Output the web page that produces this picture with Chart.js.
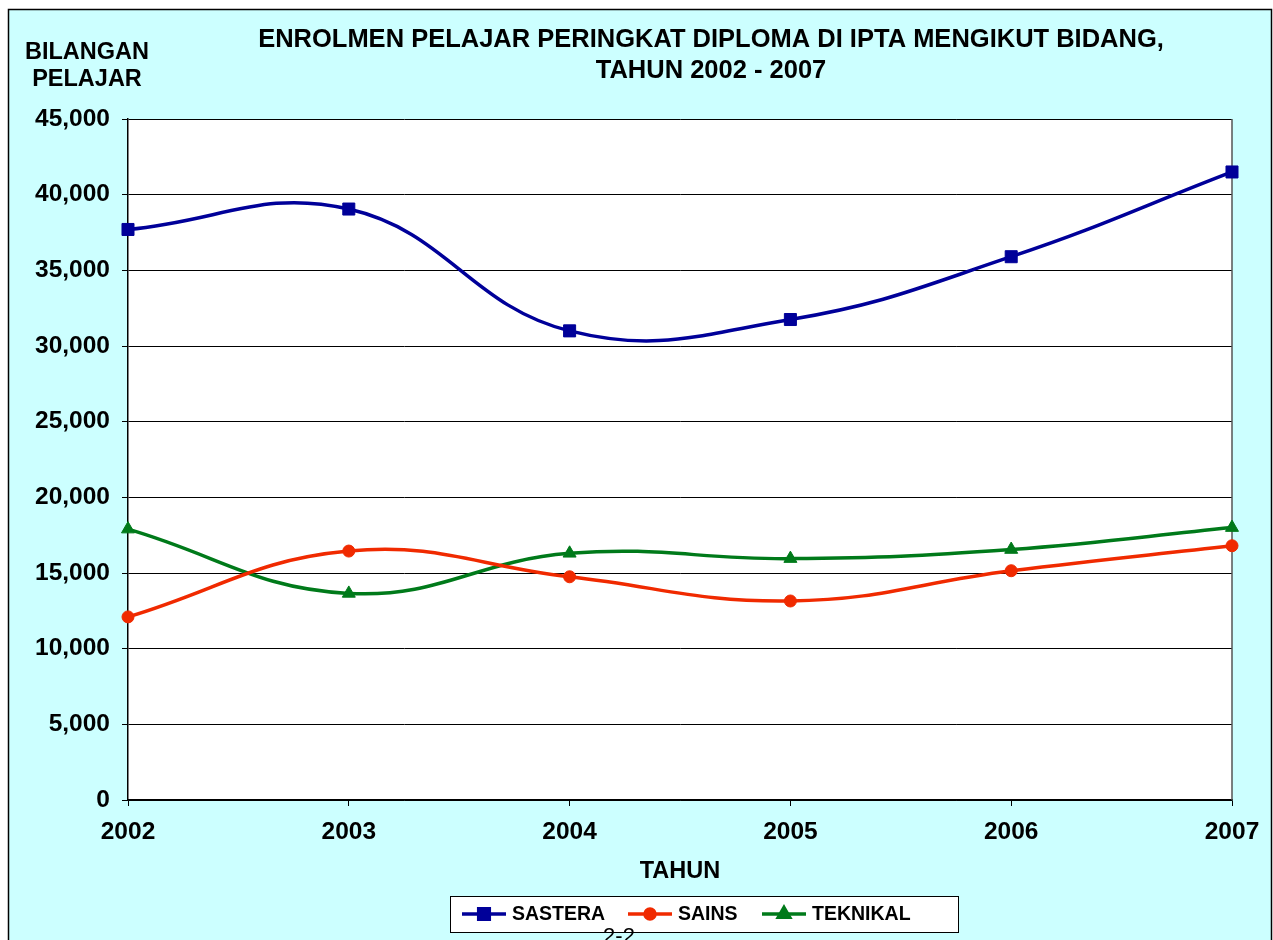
<!DOCTYPE html>
<html>
<head>
<meta charset="utf-8">
<script src="https://cdn.jsdelivr.net/npm/chart.js@4.4.1/dist/chart.umd.min.js"></script>
<style>
  html, body { margin: 0; padding: 0; background: #fff; }
  canvas { display: block; }
</style>
</head>
<body>
<canvas id="chart" width="1273" height="940"></canvas>
<script>
const years = ['2002', '2003', '2004', '2005', '2006', '2007'];
const sastera = [37700, 39050, 31000, 31750, 35900, 41500];
const sains = [12100, 16450, 14750, 13150, 15150, 16800];
const teknikal = [17900, 13650, 16300, 15950, 16550, 18000];
const yTicks = [0, 5000, 10000, 15000, 20000, 25000, 30000, 35000, 40000, 45000];

const FONT = '"Liberation Sans", Arial, sans-serif';

// frame, background, titles, legend
const decorations = {
  id: 'decorations',
  beforeDraw(chart) {
    const ctx = chart.ctx;
    const a = chart.chartArea;
    ctx.save();
    ctx.fillStyle = '#fff';
    ctx.fillRect(0, 0, chart.width, chart.height);
    ctx.fillStyle = '#ccffff';
    ctx.fillRect(8, 9, chart.width - 9, chart.height - 9);
    ctx.strokeStyle = '#000';
    ctx.lineWidth = 1.5;
    ctx.strokeRect(8.5, 9.5, chart.width - 10, chart.height + 10);
    ctx.fillStyle = '#fff';
    ctx.fillRect(a.left, a.top, a.right - a.left, a.bottom - a.top);
    ctx.restore();
  },
  beforeDatasetsDraw(chart) {
    const ctx = chart.ctx;
    const a = chart.chartArea;
    ctx.save();
    ctx.strokeStyle = '#555';
    ctx.lineWidth = 1.5;
    ctx.beginPath();
    ctx.moveTo(a.right, a.top);
    ctx.lineTo(a.right, a.bottom);
    ctx.stroke();
    ctx.restore();
  },
  afterDraw(chart) {
    const ctx = chart.ctx;
    ctx.save();
    ctx.fillStyle = '#000';
    ctx.textAlign = 'center';
    ctx.textBaseline = 'middle';
    ctx.font = 'bold 25.5px ' + FONT;
    ctx.fillText('ENROLMEN PELAJAR PERINGKAT DIPLOMA DI IPTA MENGIKUT BIDANG,', 711, 40);
    ctx.fillText('TAHUN 2002 - 2007', 711, 71);
    ctx.font = 'bold 23.5px ' + FONT;
    ctx.fillText('BILANGAN', 87, 53);
    ctx.fillText('PELAJAR', 87, 80);
    ctx.fillText('TAHUN', 680, 872);

    // legend box
    ctx.fillStyle = '#fff';
    ctx.fillRect(450, 896, 508, 36);
    ctx.strokeStyle = '#000';
    ctx.lineWidth = 1;
    ctx.strokeRect(450.5, 896.5, 508, 36);
    const starts = [462, 628, 762];
    ctx.font = 'bold 19.5px ' + FONT;
    ctx.textAlign = 'left';
    chart.data.datasets.forEach((ds, i) => {
      const x0 = starts[i];
      const y = 914;
      ctx.strokeStyle = ds.borderColor;
      ctx.lineWidth = ds.borderWidth;
      ctx.beginPath();
      ctx.moveTo(x0, y);
      ctx.lineTo(x0 + 44, y);
      ctx.stroke();
      ctx.fillStyle = ds.pointBackgroundColor;
      ctx.strokeStyle = ds.pointBorderColor;
      Chart.helpers.drawPoint(ctx, {
        pointStyle: ds.pointStyle, radius: ds.pointRadius - 1, rotation: 0, borderWidth: 1
      }, x0 + 22, y);
      ctx.fillStyle = '#000';
      ctx.fillText(ds.label, x0 + 50, y + 1);
    });

    // page number, cut by the bottom edge
    ctx.font = '22px ' + FONT;
    ctx.textAlign = 'center';
    ctx.textBaseline = 'top';
    ctx.fillText('2-2', 619, 926);
    ctx.restore();
  }
};

function series(label, data, color, style, radius) {
  return {
    label: label,
    data: data,
    borderColor: color,
    backgroundColor: color,
    borderWidth: 3.5,
    pointStyle: style,
    pointRadius: radius,
    pointHoverRadius: radius,
    pointBackgroundColor: color,
    pointBorderColor: color,
    pointBorderWidth: 1,
    tension: 0.42,
    fill: false
  };
}

new Chart(document.getElementById('chart'), {
  type: 'line',
  data: {
    labels: years,
    datasets: [
      series('SASTERA', sastera, '#000099', 'rect', 8.5),
      series('SAINS', sains, '#f02a00', 'circle', 6),
      series('TEKNIKAL', teknikal, '#007a1a', 'triangle', 7.5)
    ]
  },
  options: {
    responsive: false,
    devicePixelRatio: 1,
    animation: false,
    layout: { padding: { left: 0, right: 41, top: 119, bottom: 0 } },
    plugins: {
      legend: { display: false },
      title: { display: false },
      tooltip: { enabled: false }
    },
    scales: {
      x: {
        offset: false,
        grid: { display: true, drawOnChartArea: false, drawTicks: true, tickLength: 6, color: '#000' },
        border: { color: '#000', width: 1.5 },
        ticks: {
          color: '#000', padding: 12, maxRotation: 0,
          font: { family: FONT, size: 24.5, weight: 'bold' }
        },
        afterFit(scale) { scale.height = 140; }
      },
      y: {
        min: 0,
        max: 45000,
        afterBuildTicks(scale) { scale.ticks = yTicks.map(v => ({ value: v })); },
        grid: { color: '#000', lineWidth: 1, drawTicks: true, tickLength: 6 },
        border: { color: '#000', width: 1.5 },
        ticks: {
          color: '#000', padding: 12,
          font: { family: FONT, size: 24.5, weight: 'bold' },
          callback: v => v.toLocaleString('en-US')
        },
        afterFit(scale) { scale.width = 128; }
      }
    }
  },
  plugins: [decorations]
});
</script>
</body>
</html>
